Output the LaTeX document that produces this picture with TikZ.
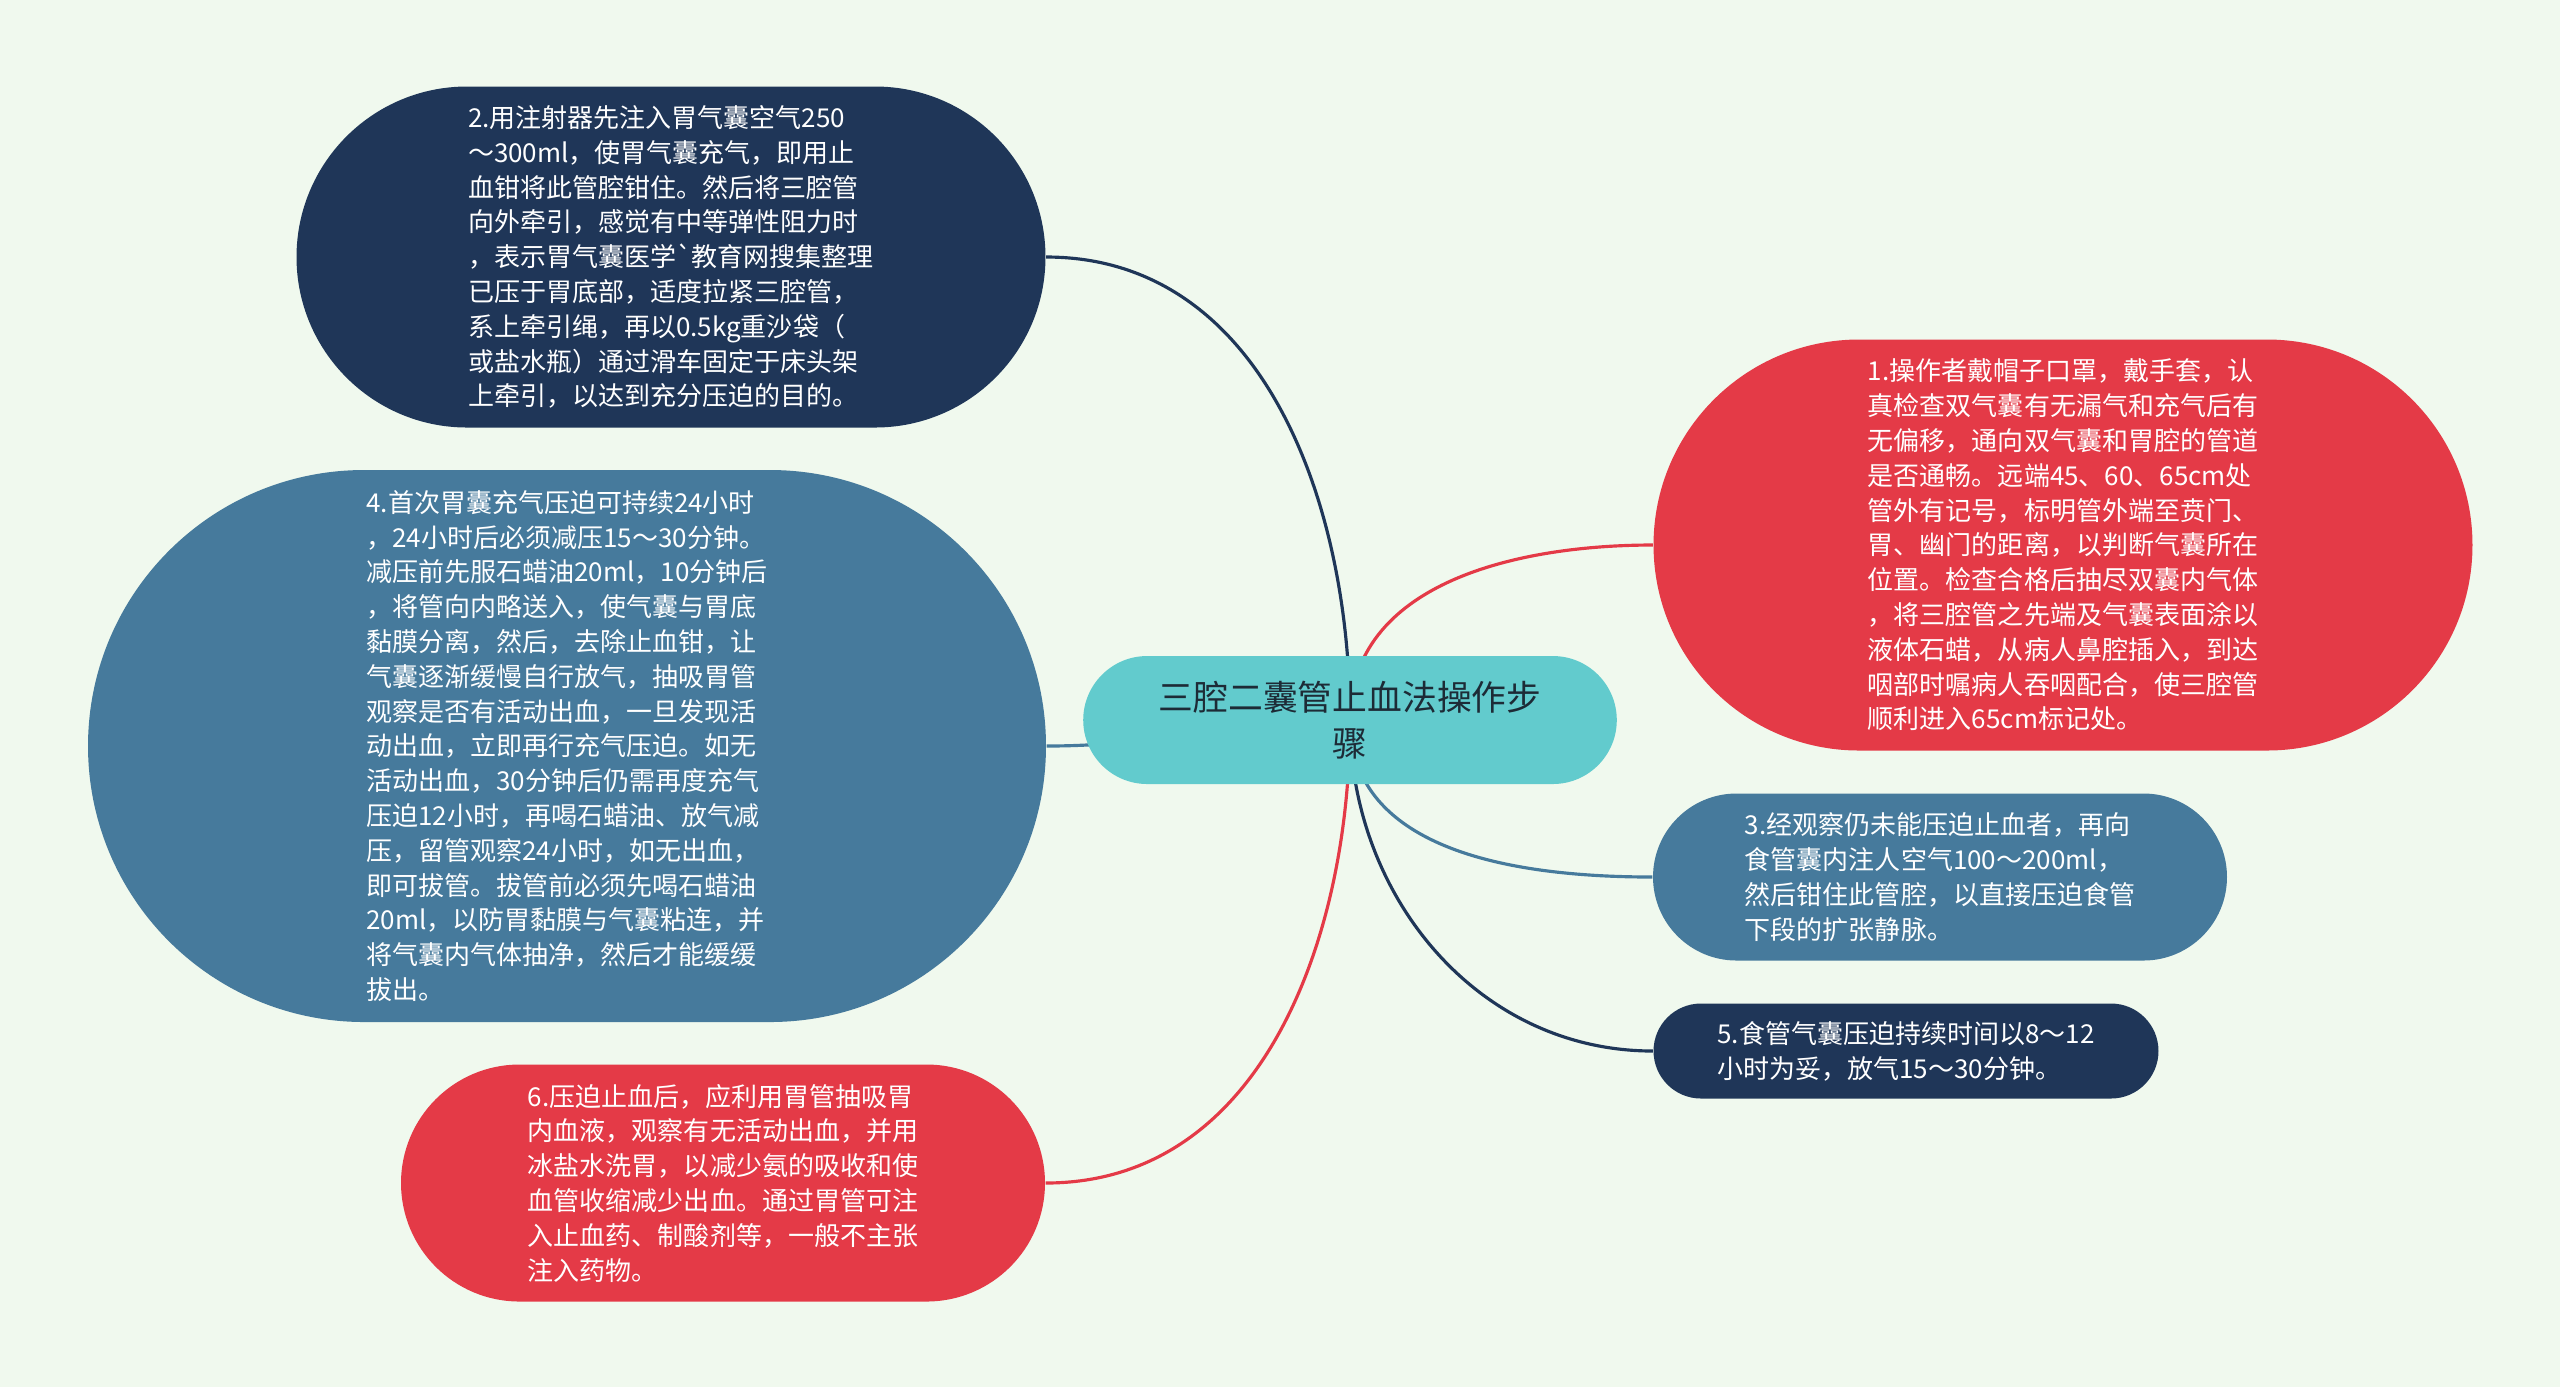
\documentclass[tikz,border=0pt]{standalone}
\usepackage{fontspec}
\setmainfont{Noto Sans CJK SC}
\usepackage{tikz}
\usetikzlibrary{shapes.misc,backgrounds}

\definecolor{bgmint}{HTML}{F0F9EE}
\definecolor{navy}{HTML}{1F3658}
\definecolor{steel}{HTML}{467A9C}
\definecolor{rose}{HTML}{E43A47}
\definecolor{teal}{HTML}{62CBCD}
\definecolor{ink}{HTML}{1D2B36}

\newcommand\leaffont{\fontsize{7.4}{9.9}\selectfont}
\newcommand\rootfont{\fontsize{9.9}{13}\selectfont}

\tikzset{leaf/.style={rounded rectangle,fill=#1,text=white,align=left,font=\leaffont,inner xsep=1pt,inner ysep=0pt},
  link/.style={draw=#1,line width=0.9pt}}

\begin{document}
\begin{tikzpicture}
    \useasboundingbox (0,0) rectangle (25.6,-13.87);
    \node[rounded rectangle,fill=teal,text=ink,align=center,font=\rootfont,minimum width=5.57cm,minimum height=1.28cm] (main) at (13.50,-7.20) {三腔二囊管止血法操作步\\骤};
    \node[leaf=rose,minimum width=8.26cm,minimum height=4.11cm] (s1) at (20.63,-5.45) {1.操作者戴帽子口罩，戴手套，认\\真检查双气囊有无漏气和充气后有\\无偏移，通向双气囊和胃腔的管道\\是否通畅。远端45、60、65cm处\\管外有记号，标明管外端至贲门、\\胃、幽门的距离，以判断气囊所在\\位置。检查合格后抽尽双囊内气体\\，将三腔管之先端及气囊表面涂以\\液体石蜡，从病人鼻腔插入，到达\\咽部时嘱病人吞咽配合，使三腔管\\顺利进入65cm标记处。};
    \node[leaf=navy,minimum width=7.56cm,minimum height=3.41cm] (s2) at (6.71,-2.57) {2.用注射器先注入胃气囊空气250\\～300ml，使胃气囊充气，即用止\\血钳将此管腔钳住。然后将三腔管\\向外牵引，感觉有中等弹性阻力时\\，表示胃气囊医学\textasciigrave 教育网搜集整理\\已压于胃底部，适度拉紧三腔管，\\系上牵引绳，再以0.5kg重沙袋（\\或盐水瓶）通过滑车固定于床头架\\上牵引，以达到充分压迫的目的。};
    \node[leaf=steel,minimum width=5.81cm,minimum height=1.67cm] (s3) at (19.40,-8.77) {3.经观察仍未能压迫止血者，再向\\食管囊内注人空气100～200ml，\\然后钳住此管腔，以直接压迫食管\\下段的扩张静脉。};
    \node[leaf=steel,minimum width=9.65cm,minimum height=5.52cm] (s4) at (5.67,-7.46) {4.首次胃囊充气压迫可持续24小时\\，24小时后必须减压15～30分钟。\\减压前先服石蜡油20ml，10分钟后\\，将管向内略送入，使气囊与胃底\\黏膜分离，然后，去除止血钳，让\\气囊逐渐缓慢自行放气，抽吸胃管\\观察是否有活动出血，一旦发现活\\动出血，立即再行充气压迫。如无\\活动出血，30分钟后仍需再度充气\\压迫12小时，再喝石蜡油、放气减\\压，留管观察24小时，如无出血，\\即可拔管。拔管前必须先喝石蜡油\\20ml，以防胃黏膜与气囊粘连，并\\将气囊内气体抽净，然后才能缓缓\\拔出。};
    \node[leaf=navy,minimum width=5.12cm,minimum height=0.95cm] (s5) at (19.06,-10.51) {5.食管气囊压迫持续时间以8～12\\小时为妥，放气15～30分钟。};
    \node[leaf=rose,minimum width=6.51cm,minimum height=2.37cm] (s6) at (7.23,-11.83) {6.压迫止血后，应利用胃管抽吸胃\\内血液，观察有无活动出血，并用\\冰盐水洗胃，以减少氨的吸收和使\\血管收缩减少出血。通过胃管可注\\入止血药、制酸剂等，一般不主张\\注入药物。};
    \begin{scope}[on background layer]
        \fill[bgmint] (0,0) rectangle (25.6,-13.87);
        \draw[link=rose] (main.center) to[out=90,in=180] (s1.west);
        \draw[link=navy] (main.center) to[out=90,in=0] (s2.east);
        \draw[link=steel] (main.center) to[out=-90,in=180] (s3.west);
        \draw[link=steel] (main.center) to[out=180,in=0] (s4.east);
        \draw[link=navy] (main.center) to[out=-90,in=180] (s5.west);
        \draw[link=rose] (main.center) to[out=-90,in=0] (s6.east);
    \end{scope}
\end{tikzpicture}
\end{document}
